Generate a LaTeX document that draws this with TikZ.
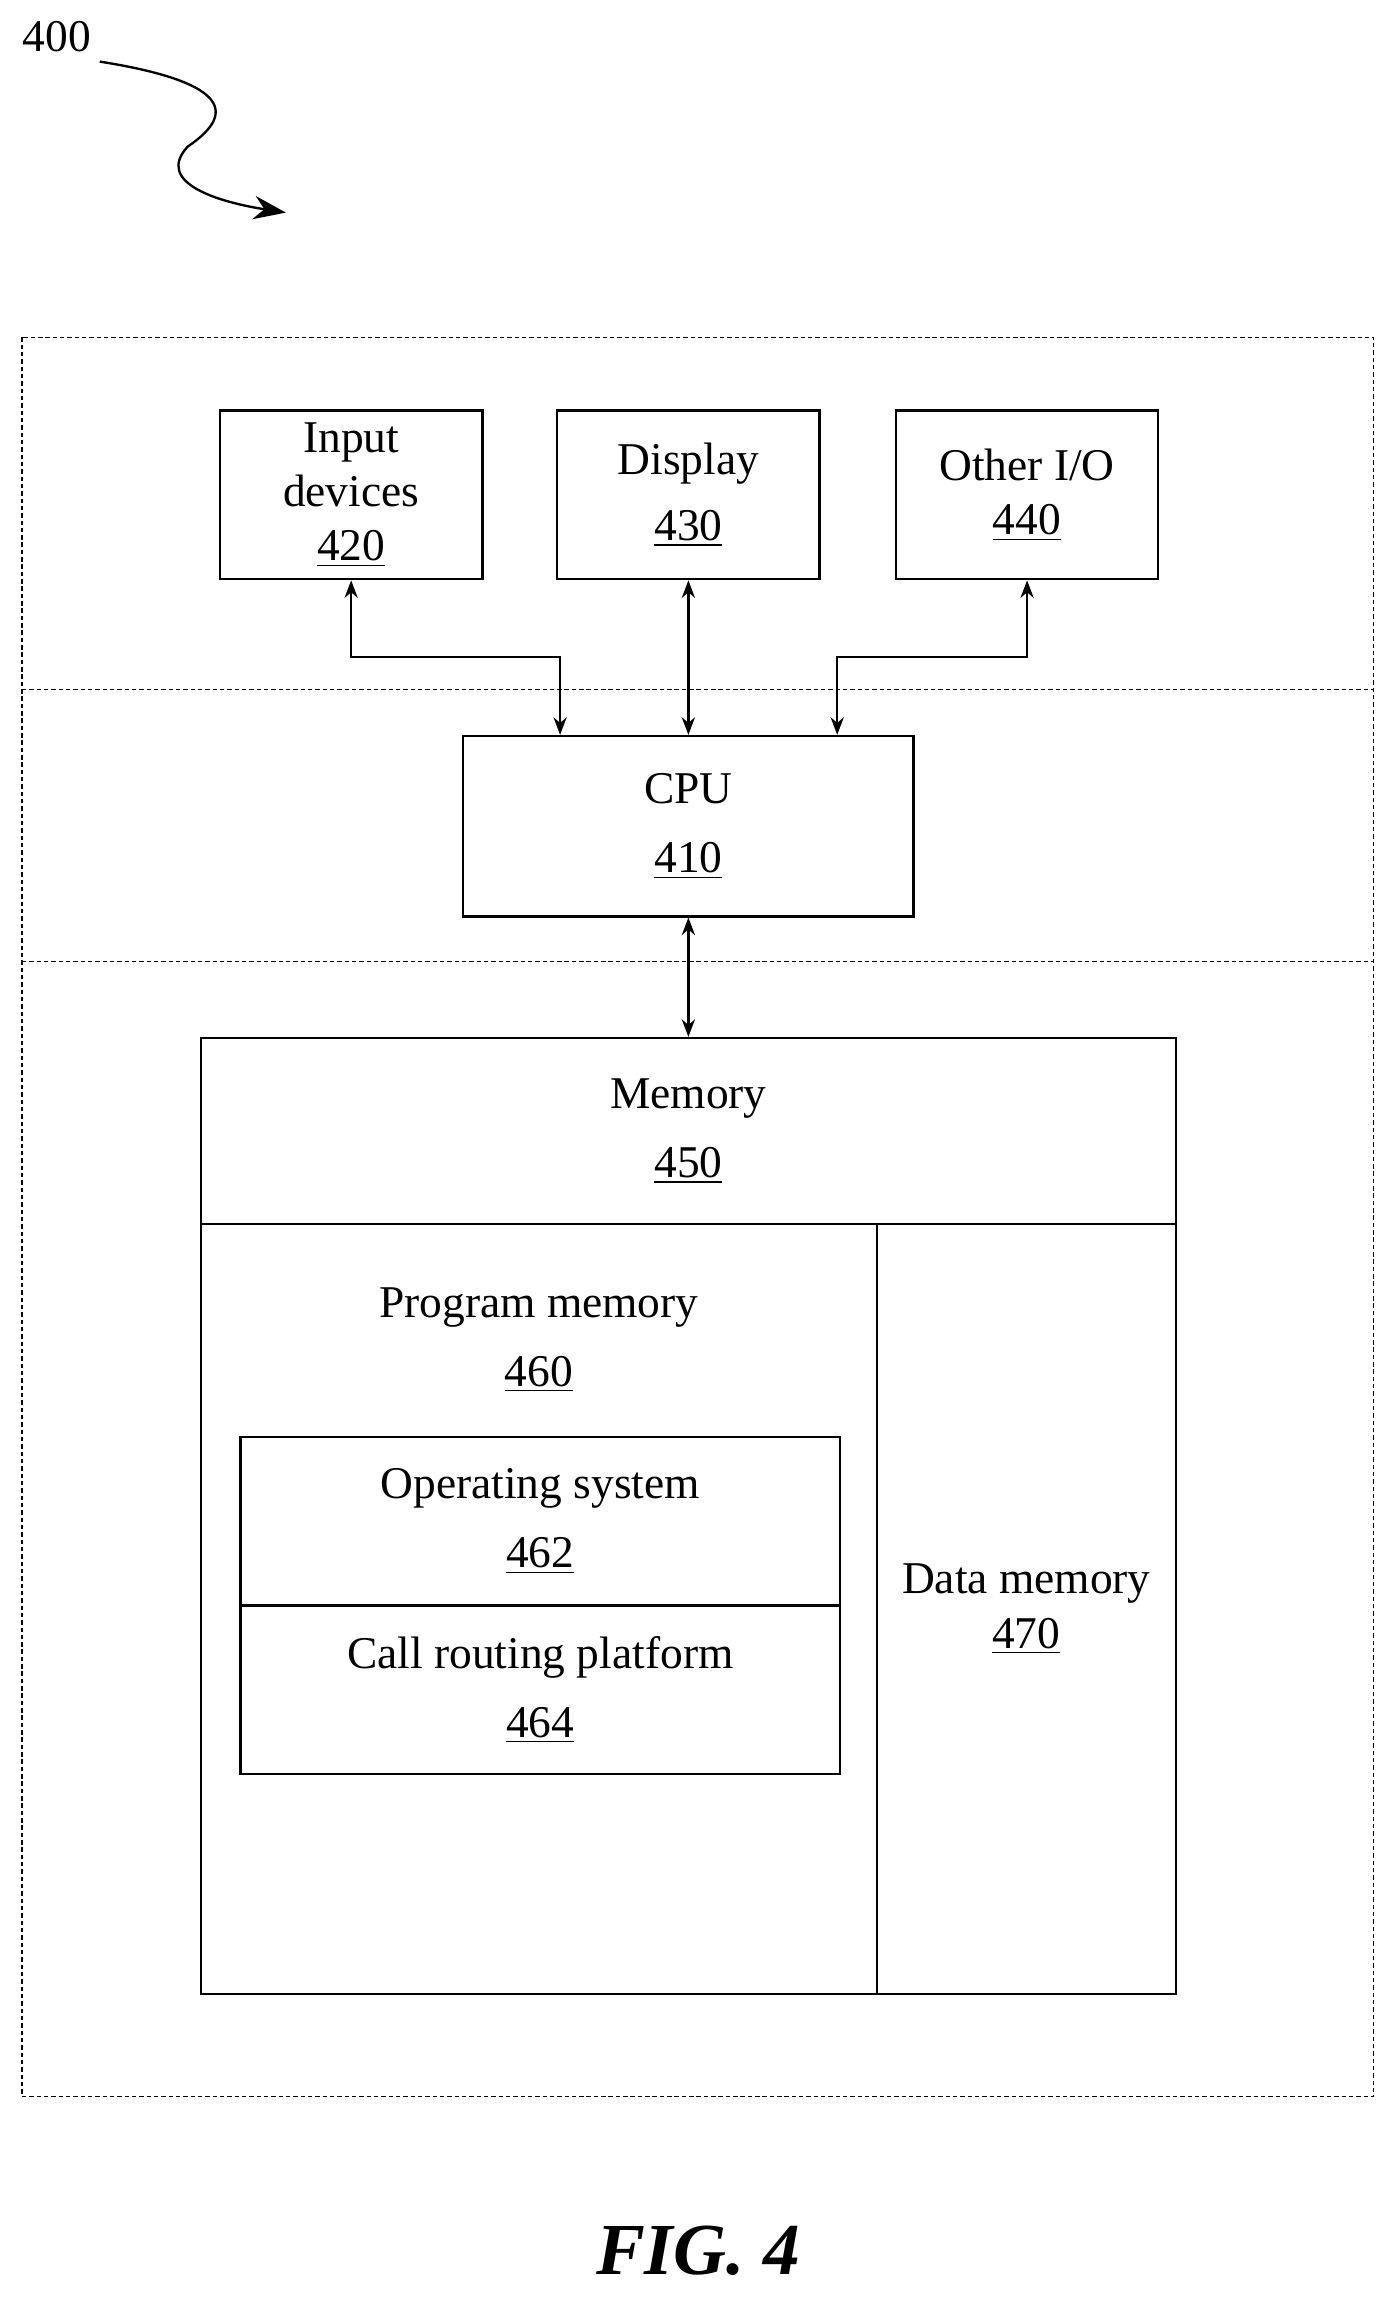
\documentclass[tikz,border=0pt]{standalone}
\usepackage{fontspec}
\setmainfont{Liberation Serif}
\usetikzlibrary{arrows, arrows.meta}
\tikzset{
    box/.style={rectangle, draw=black, thick, inner sep=0pt, align=center, font=\fontsize{15.5}{18.5}\selectfont},
    txt/.style={align=center, inner sep=0pt, font=\fontsize{15.5}{18.5}\selectfont},
    sep/.style={dash pattern=on 1.5pt off 1pt, thin},
    arrow/.style={thick, <->, >={Stealth[length=6pt, width=4.5pt]}}
}

\begin{document}
\begin{tikzpicture}[x=0.5pt, y=-0.5pt]
    \useasboundingbox (0,0) rectangle (950,1568);

    \node (ref) [txt, anchor=west] at (15,25) {400};
    \coordinate (tip) at (195,145);
    \draw [thick, -{Stealth[length=11pt, width=8pt]}] (68,42) .. controls (150,55) and (165,75) .. (128,100) .. controls (105,125) and (150,138) .. (tip);

    \draw [sep] (15,230) rectangle (937,1430);
    \draw [sep] (15,470) -- (937,470);
    \draw [sep] (15,656) -- (937,656);

    \node (in) [box, minimum width=89.5pt, minimum height=57.5pt] at (239.5,337.5) {Input\\devices\\\underline{420}};
    \node (disp) [box, minimum width=89.5pt, minimum height=57.5pt] at (469.5,337.5) {Display\\[4pt]\underline{430}};
    \node (oth) [box, minimum width=89.5pt, minimum height=57.5pt] at (700.5,337.5) {Other I/O\\\underline{440}};
    \node (cpu) [box, minimum width=153.5pt, minimum height=61.5pt] at (469.5,563.5) {CPU\\[5pt]\underline{410}};

    \node (mem) [box, minimum width=332.5pt, minimum height=63.5pt] at (469.5,771.5) {Memory\\[5pt]\underline{450}};
    \node (prog) [box, minimum width=230.5pt, minimum height=262.5pt] at (367.5,1097.5) {};
    \node (progtext) [txt] at (367.5,914) {Program memory\\[5pt]\underline{460}};
    \node (data) [box, minimum width=102pt, minimum height=262.5pt] at (700,1097.5) {Data memory\\\underline{470}};
    \node (os) [box, minimum width=204.5pt, minimum height=57.5pt] at (368.5,1037.5) {Operating system\\[5pt]\underline{462}};
    \node (crp) [box, minimum width=204.5pt, minimum height=57.5pt] at (368.5,1152.5) {Call routing platform\\[5pt]\underline{464}};

    \coordinate (inj) at (382,448);
    \coordinate (othj) at (571,448);
    \draw [arrow] (in.south) |- (inj) -- (cpu.north -| inj);
    \draw [arrow] (disp.south) -- (cpu.north);
    \draw [arrow] (oth.south) |- (othj) -- (cpu.north -| othj);
    \draw [arrow] (cpu.south) -- (mem.north);

    \node (fig) [font=\fontsize{25}{30}\selectfont\bfseries\itshape] at (476,1535) {FIG. 4};
\end{tikzpicture}
\end{document}
